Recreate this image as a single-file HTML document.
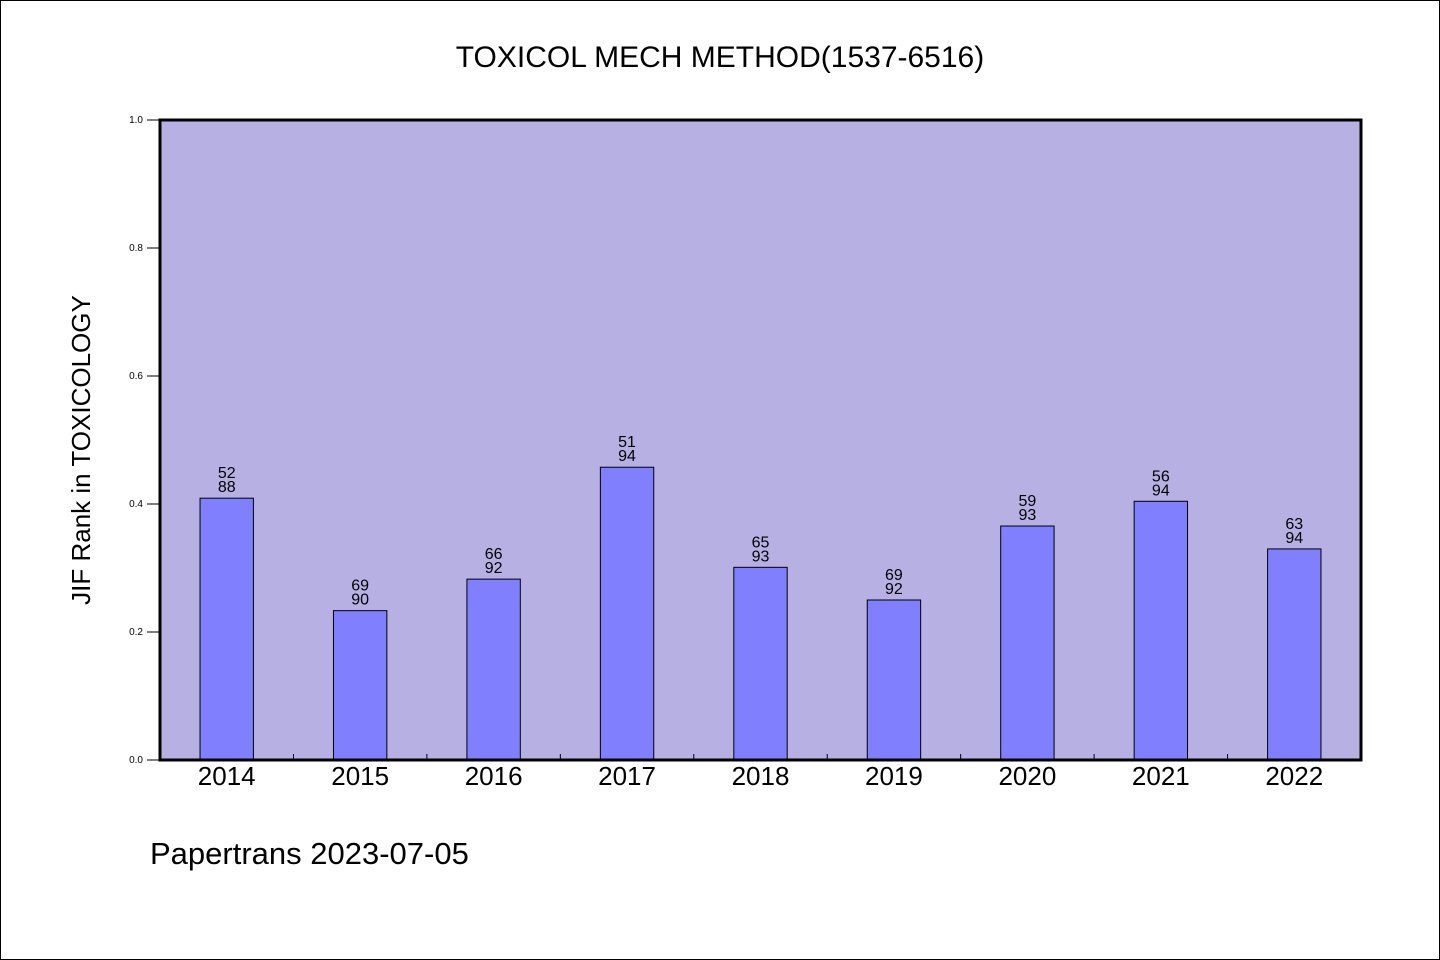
<!DOCTYPE html>
<html><head><meta charset="utf-8"><style>
html,body{margin:0;padding:0;background:#fff}
svg{display:block}
text{font-family:"WenQuanYi Zen Hei","Liberation Sans",sans-serif;fill:#000}
</style></head><body>
<svg width="1440" height="960" id="svg">
<rect x="0.5" y="0.5" width="1439" height="959" fill="#fff" stroke="#000"/>
<text x="720" y="67" font-size="30" text-anchor="middle">TOXICOL MECH METHOD(1537-6516)</text>
<rect x="160" y="120" width="1201" height="640" fill="#b6b0e3"/>
<g id="bars"></g>
<g id="axes"></g>
<rect x="160" y="120" width="1201" height="640" fill="none" stroke="#000" stroke-width="3"/>
<text transform="translate(90,450) rotate(-90)" font-size="26" text-anchor="middle">JIF Rank in TOXICOLOGY</text>
<text x="150" y="864" font-size="31">Papertrans 2023-07-05</text>
</svg>
<script>
const years=["2014","2015","2016","2017","2018","2019","2020","2021","2022"];
const ranks=[52,69,66,51,65,69,59,56,63];
const totals=[88,90,92,94,93,92,93,94,94];
const yTicks=[0,0.2,0.4,0.6,0.8,1.0];
const NS="http://www.w3.org/2000/svg";
const x0=160,x1=1361,y0=760,y1=120;
const band=(x1-x0)/years.length;
const xs=i=>x0+band*(i+0.5);
const ys=v=>y0-(y0-y1)*v;
function mk(t,a,p){const e=document.createElementNS(NS,t);for(const k in a)e.setAttribute(k,a[k]);p.appendChild(e);return e;}
const bars=document.getElementById('bars'),axes=document.getElementById('axes');
years.forEach((y,i)=>{
  const v=1-ranks[i]/totals[i];
  const bw=band*0.4;
  const r=mk('rect',{x:xs(i)-bw/2,y:ys(v),width:bw,height:y0-ys(v),fill:'#8080ff',stroke:'#000','stroke-width':1},bars);
  
  
  const t1=mk('text',{x:xs(i),y:ys(v)-20,'font-size':16,'text-anchor':'middle'},bars);t1.textContent=ranks[i];
  
  
  const t2=mk('text',{x:xs(i),y:ys(v)-6,'font-size':16,'text-anchor':'middle'},bars);t2.textContent=totals[i];
  
  
  const xl=mk('text',{x:xs(i),y:785,'font-size':26,'text-anchor':'middle'},axes);xl.textContent=y;
  
  
  if(i>0){const tk=mk('line',{x1:x0+band*i,x2:x0+band*i,y1:y0,y2:y0-6,stroke:'#000'},axes);
    
    }
});
yTicks.forEach(v=>{
  const l=mk('line',{x1:147,x2:160,y1:ys(v),y2:ys(v),stroke:'#000'},axes);
  
  
  const t=mk('text',{x:143,y:ys(v)+3,'font-size':10,'text-anchor':'end','font-family':'DejaVu Sans,sans-serif'},axes);t.textContent=v.toFixed(1);
  
  
});
</script>
</body></html>
